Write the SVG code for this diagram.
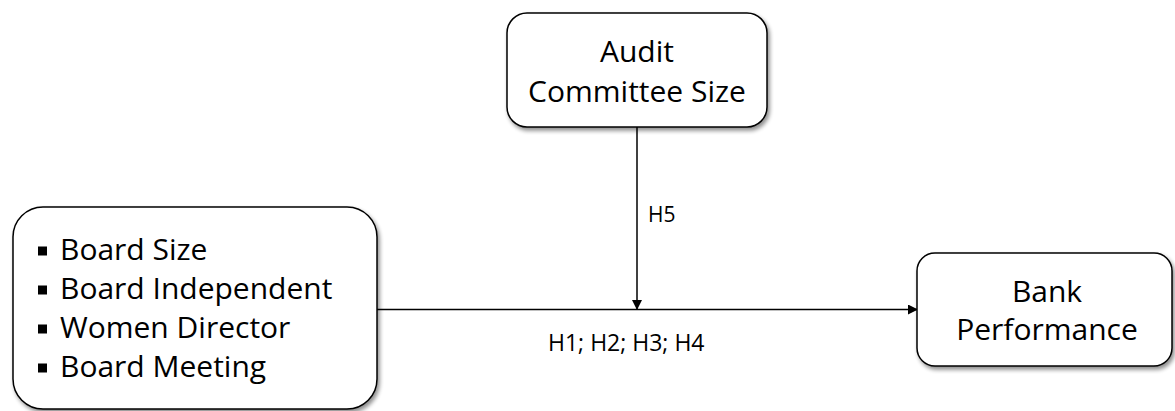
<svg xmlns="http://www.w3.org/2000/svg" width="1175" height="411" viewBox="0 0 1175 411">
<defs>
<filter id="sh" x="-10%" y="-10%" width="125%" height="130%">
<feGaussianBlur in="SourceAlpha" stdDeviation="2"/>
<feOffset dx="2" dy="3" result="b"/>
<feComponentTransfer><feFuncA type="linear" slope="0.45"/></feComponentTransfer>
<feMerge><feMergeNode/><feMergeNode in="SourceGraphic"/></feMerge>
</filter>
<marker id="ah" markerWidth="10" markerHeight="10" refX="9" refY="5" orient="auto" markerUnits="userSpaceOnUse">
<path d="M0,0 L10,5 L0,10 Z" fill="#000"/>
</marker>
</defs>
<style>
.box{fill:#fff;stroke:#000;stroke-width:1.5;filter:url(#sh)}
.t{font-family:"Open Sans","Liberation Sans",sans-serif;font-size:30px;fill:#000}
.c{text-anchor:middle}
.s{font-family:"Open Sans","Liberation Sans",sans-serif;font-size:23px;fill:#000}
.h5{font-size:21px}
.ln{stroke:#000;stroke-width:1.5;fill:none}
</style>
<rect width="1175" height="411" fill="#fff"/>
<g id="connectors">
<line class="ln" x1="377" y1="309.5" x2="917" y2="309.5" marker-end="url(#ah)"/>
<line class="ln" x1="637" y1="127" x2="637" y2="309" marker-end="url(#ah)"/>
<text class="s h5" x="648" y="222">H5</text>
<text class="s" x="548" y="351">H1; H2; H3; H4</text>
</g>
<g id="audit">
<rect class="box" x="507" y="13" width="260" height="114" rx="20"/>
<text class="t c" x="637" y="62">Audit</text>
<text class="t c" x="637" y="102">Committee Size</text>
</g>
<g id="board">
<rect class="box" x="13" y="207" width="364" height="202" rx="30"/>
<rect x="38" y="246.5" width="9" height="9"/>
<rect x="38" y="285.5" width="9" height="9"/>
<rect x="38" y="324.5" width="9" height="9"/>
<rect x="38" y="363.5" width="9" height="9"/>
<text class="t" x="60" y="260">Board Size</text>
<text class="t" x="60" y="299">Board Independent</text>
<text class="t" x="60" y="338">Women Director</text>
<text class="t" x="60" y="377">Board Meeting</text>
</g>
<g id="bank">
<rect class="box" x="917" y="253" width="255" height="113" rx="18"/>
<text class="t c" x="1047" y="302">Bank</text>
<text class="t c" x="1047" y="340">Performance</text>
</g>
</svg>
